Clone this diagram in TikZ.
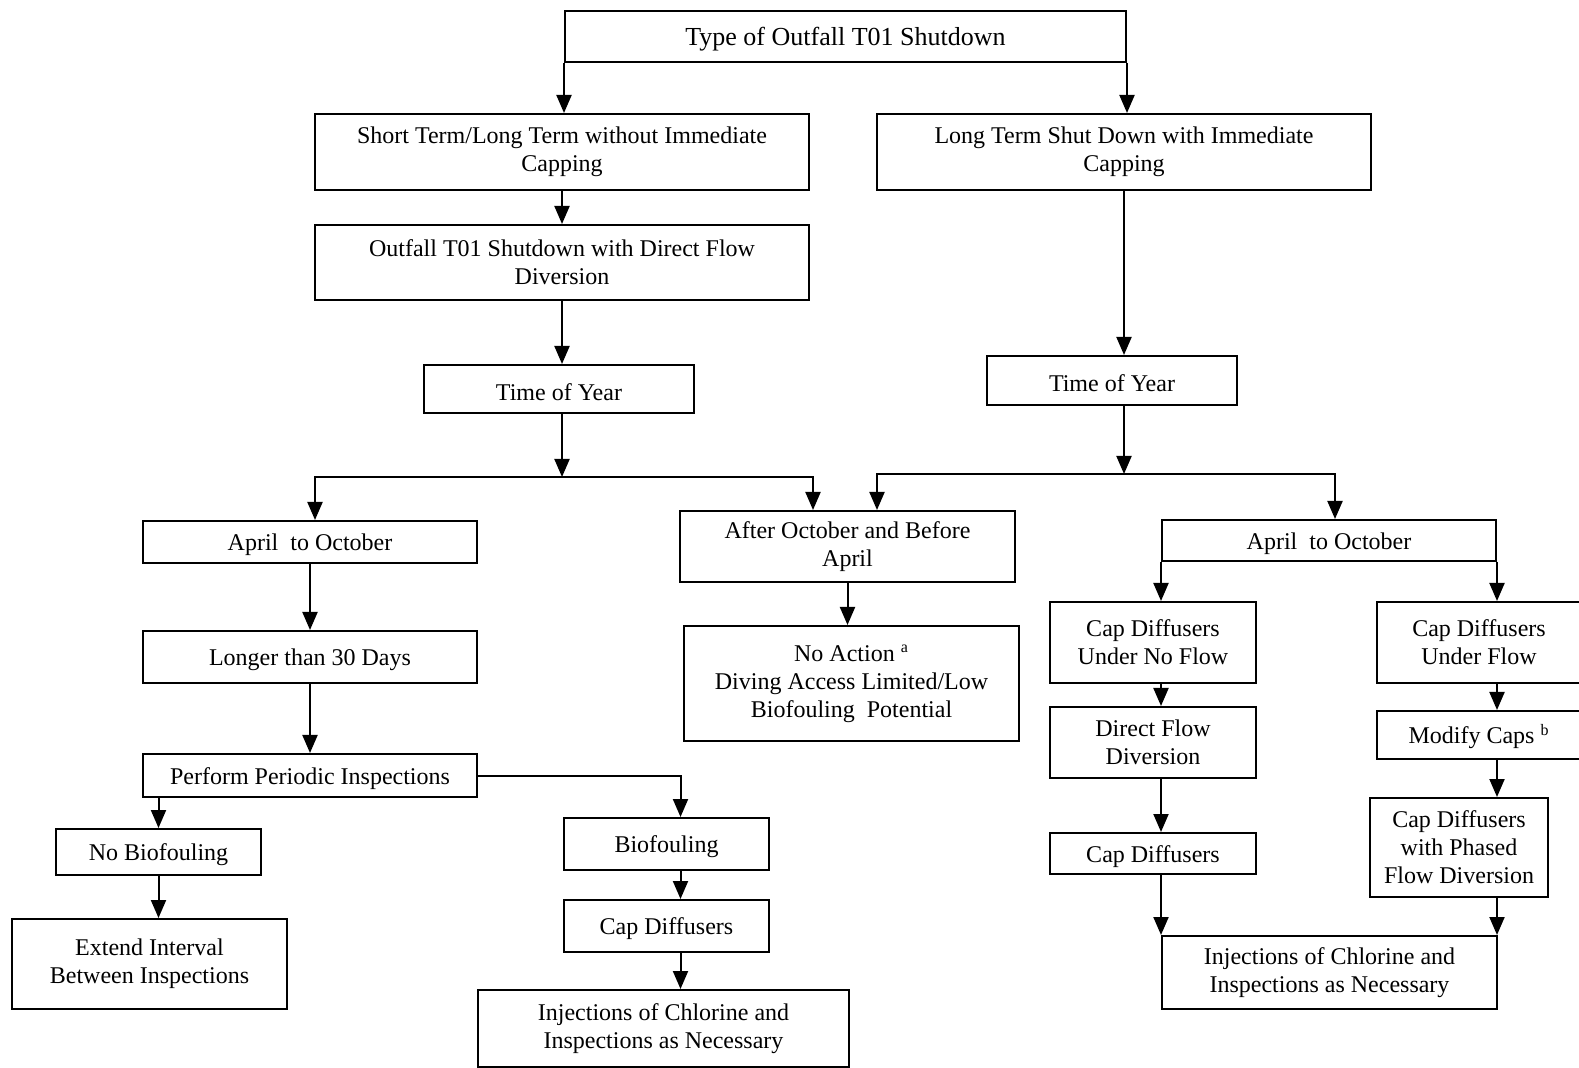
\documentclass[tikz,border=0pt]{standalone}
\usepackage{fontspec}
\setmainfont{Liberation Serif}
\usetikzlibrary{arrows.meta}

\begin{document}
\begin{tikzpicture}[
    x=0.5pt, y=-0.5pt,
    box/.style={draw, line width=1pt, align=center, inner sep=2pt, font=\fontsize{12}{14}\selectfont,
        execute at begin node={\rule{0pt}{11.5pt}}},
    wh/.style 2 args={minimum width=#1*0.5pt, minimum height=#2*0.5pt},
    arrow/.style={-{Triangle[length=9pt, width=7.5pt]}, line width=1pt},
    biarrow/.style={{Triangle[length=9pt, width=7.5pt]}-{Triangle[length=9pt, width=7.5pt]}, line width=1pt, line join=miter}
]
    \useasboundingbox (0,0) rectangle (1579,1068);

    % Top level
    \node[box, wh={561}{51}, font=\fontsize{13}{15}\selectfont] (type) at (845.5,36.5) {Type of Outfall T01 Shutdown};
    \node[box, wh={494}{76}] (short) at (562,152) {Short Term/Long Term without Immediate\\Capping};
    \node[box, wh={494}{76}] (long) at (1124,152) {Long Term Shut Down with Immediate\\Capping};

    % Left branch
    \node[box, wh={494}{75}] (divert) at (562,262.5) {Outfall T01 Shutdown with Direct Flow\\Diversion};
    \node[box, wh={270}{48}] (yearL) at (559,389) {Time of Year};
    \node[box, wh={334}{42}] (aprL) at (310,542) {April~ to October};
    \node[box, wh={334}{52}] (days) at (310,657) {Longer than 30 Days};
    \node[box, wh={334}{43}] (inspect) at (310,775.5) {Perform Periodic Inspections};
    \node[box, wh={205}{46}] (nobio) at (158.5,852) {No Biofouling};
    \node[box, wh={275}{90}] (extend) at (149.5,964) {Extend Interval\\Between Inspections};
    \node[box, wh={205}{52}] (bio) at (666.5,844) {Biofouling};
    \node[box, wh={205}{52}] (capL) at (666.5,926) {Cap Diffusers};
    \node[box, wh={371}{77}] (injL) at (663.5,1028.5) {Injections of Chlorine and\\Inspections as Necessary};

    % Middle
    \node[box, wh={335}{71}] (after) at (847.5,546.5) {After October and Before\\April};
    \node[box, wh={335}{115}] (noact) at (851.5,683.5) {No Action \textsuperscript{a}\\Diving Access Limited/Low\\Biofouling~ Potential};

    % Right branch
    \node[box, wh={250}{49}] (yearR) at (1112,380.5) {Time of Year};
    \node[box, wh={334}{41}] (aprR) at (1329,540.5) {April~ to October};
    \node[box, wh={206}{81}] (noflow) at (1153,642.5) {Cap Diffusers\\Under No Flow};
    \node[box, wh={206}{71}] (direct) at (1153,742.5) {Direct Flow\\Diversion};
    \node[box, wh={206}{41}] (capR) at (1153,853.5) {Cap Diffusers};
    \node[box, wh={204}{81}] (flow) at (1479,642.5) {Cap Diffusers\\Under Flow};
    \node[box, wh={204}{48}] (modify) at (1479,735) {Modify Caps \textsuperscript{b}};
    \node[box, wh={178}{99}] (phased) at (1459,847.5) {Cap Diffusers\\with Phased\\Flow Diversion};
    \node[box, wh={335}{73}] (injR) at (1329.5,972.5) {Injections of Chlorine and\\Inspections as Necessary};

    % Branch points
    \coordinate (jLa) at (315,477);
    \coordinate (jLb) at (813,477);
    \coordinate (jRa) at (877,474);
    \coordinate (jRb) at (1335,474);

    % Top connectors
    \draw[arrow] (type.south west) -- (type.south west |- short.north);
    \draw[arrow] (type.south east) -- (type.south east |- long.north);

    % Left connectors
    \draw[arrow] (short.south) -- (divert.north);
    \draw[arrow] (divert.south) -- (divert.south |- yearL.north);
    \draw[arrow] (divert.south |- yearL.south) -- (divert.south |- jLa);
    \draw[biarrow] (jLa |- aprL.north) -- (jLa) -- (jLb) -- (jLb |- after.north);
    \draw[arrow] (aprL.south) -- (days.north);
    \draw[arrow] (days.south) -- (inspect.north);
    \draw[arrow] (nobio.north |- inspect.south) -- (nobio.north);
    \draw[arrow] (nobio.south) -- (nobio.south |- extend.north);
    \draw[arrow] (inspect.east) -| ([xshift=7pt]bio.north);
    \draw[arrow] ([xshift=7pt]bio.south) -- ([xshift=7pt]capL.north);
    \draw[arrow] ([xshift=7pt]capL.south) -- ([xshift=7pt]capL.south |- injL.north);

    % Middle connector
    \draw[arrow] (after.south) -- (after.south |- noact.north);

    % Right connectors
    \draw[arrow] (long.south) -- (long.south |- yearR.north);
    \draw[arrow] (long.south |- yearR.south) -- (long.south |- jRa);
    \draw[biarrow] (jRa |- after.north) -- (jRa) -- (jRb) -- (jRb |- aprR.north);
    \draw[arrow] (aprR.south west) -- (aprR.south west |- noflow.north);
    \draw[arrow] (aprR.south east) -- (aprR.south east |- flow.north);
    \draw[arrow] (aprR.south west |- noflow.south) -- (aprR.south west |- direct.north);
    \draw[arrow] (aprR.south west |- direct.south) -- (aprR.south west |- capR.north);
    \draw[arrow] (aprR.south west |- capR.south) -- (aprR.south west |- injR.north);
    \draw[arrow] (aprR.south east |- flow.south) -- (aprR.south east |- modify.north);
    \draw[arrow] (aprR.south east |- modify.south) -- (aprR.south east |- phased.north);
    \draw[arrow] (aprR.south east |- phased.south) -- (aprR.south east |- injR.north);
\end{tikzpicture}
\end{document}
